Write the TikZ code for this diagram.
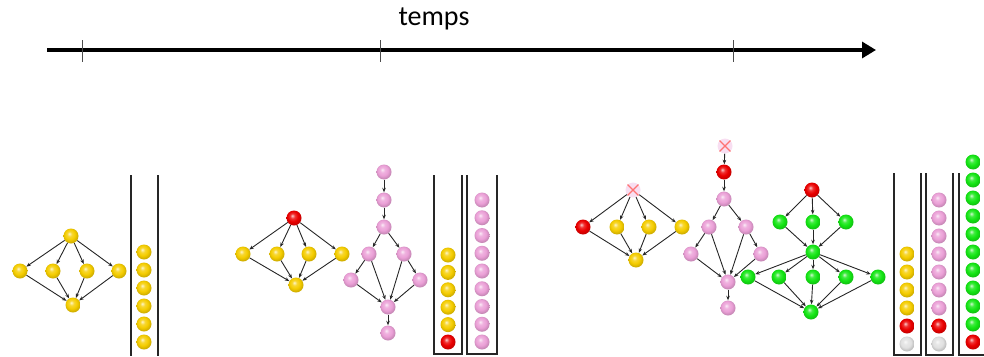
\documentclass[tikz,border=0pt]{standalone}
\usepackage{fontspec}
\setmainfont{Carlito}
\usetikzlibrary{arrows.meta}
\definecolor{yel}{RGB}{245,205,0}
\definecolor{pnk}{RGB}{235,160,215}
\definecolor{grn}{RGB}{20,230,20}
\definecolor{rd}{RGB}{235,0,0}
\definecolor{wht}{RGB}{225,225,225}
\makeatletter
\pgfdeclareradialshading[tikz@ball]{myball}{\pgfqpoint{-6bp}{8bp}}{%
  color(0bp)=(tikz@ball!20!white); color(8bp)=(tikz@ball!80!white);
  color(17bp)=(tikz@ball); color(26bp)=(tikz@ball!85!black);
  color(50bp)=(tikz@ball!60!black)}
\makeatother
\tikzset{
  ball/.style={circle, minimum size=15pt, inner sep=0pt, ball color=#1, shading=myball},
  gone/.style={circle, minimum size=15pt, inner sep=0pt, fill=pnk!35, draw=none},
  edge/.style={-{Stealth[length=4.5pt,width=3.5pt]}, line width=0.9pt, draw=black!85},
  wall/.style={line width=1.3pt, draw=black!85},
  tick/.style={line width=0.6pt, draw=black!70},
}
\begin{document}
\begin{tikzpicture}[x=1pt,y=-1pt]
\useasboundingbox (0,0) rectangle (984,356);
% timeline
\node[font=\fontsize{28}{32}\selectfont] (temps) at (434,19) {temps};
\coordinate (t0) at (47,50);
\coordinate (t1) at (876,50);
\draw[line width=3.2pt, -{Triangle[length=14pt,width=16pt]}] (t0) -- (t1);
\foreach \x/\n in {82/a,380/b,733/c} {
  \coordinate (tk\n a) at (\x,40);
  \coordinate (tk\n b) at (\x,62);
  \draw[tick] (tk\n a) -- (tk\n b);
}
% ---------- stage 1 ----------
\node[ball=yel] (a0) at (71,236) {};
\node[ball=yel] (a1) at (20,271) {};
\node[ball=yel] (a2) at (53,271) {};
\node[ball=yel] (a3) at (87,271) {};
\node[ball=yel] (a4) at (119,271) {};
\node[ball=yel] (a5) at (73,305) {};
\foreach \i in {1,...,4} {\draw[edge] (a0) -- (a\i); \draw[edge] (a\i) -- (a5);}
% stack 1
\coordinate (w1a) at (131,175); \coordinate (w1b) at (131,356);
\coordinate (w1c) at (158,175); \coordinate (w1d) at (158,356);
\draw[wall] (w1a) -- (w1b); \draw[wall] (w1c) -- (w1d);
\foreach \k in {0,...,5} {\node[ball=yel] (s1\k) at (144,{342-18*\k}) {};}
% ---------- stage 2 ----------
\node[ball=rd] (b0) at (294,218) {};
\node[ball=yel] (b1) at (243,254) {};
\node[ball=yel] (b2) at (277,254) {};
\node[ball=yel] (b3) at (309,254) {};
\node[ball=yel] (b4) at (342,254) {};
\node[ball=yel] (b5) at (296,285) {};
\foreach \i in {1,...,4} {\draw[edge] (b0) -- (b\i); \draw[edge] (b\i) -- (b5);}
% pink graph
\node[ball=pnk] (p1) at (384,172) {};
\node[ball=pnk] (p2) at (384,200) {};
\node[ball=pnk] (p3) at (384,227) {};
\node[ball=pnk] (p4) at (369,254) {};
\node[ball=pnk] (p5) at (404,254) {};
\node[ball=pnk] (p6) at (351,280) {};
\node[ball=pnk] (p7) at (420,280) {};
\node[ball=pnk] (p8) at (388,307) {};
\node[ball=pnk] (p9) at (388,333) {};
\foreach \u/\v in {1/2,2/3,3/4,3/5,4/6,4/8,5/8,5/7,6/8,7/8,8/9} {\draw[edge] (p\u) -- (p\v);}
% stacks 2
\coordinate (w2a) at (434,175); \coordinate (w2b) at (434,354);
\coordinate (w2c) at (462,354); \coordinate (w2d) at (462,175);
\draw[wall] (w2a) -- (w2b) -- (w2c) -- (w2d);
\coordinate (w3a) at (467,175); \coordinate (w3b) at (467,354);
\coordinate (w3c) at (497,354); \coordinate (w3d) at (497,175);
\draw[wall] (w3a) -- (w3b) -- (w3c) -- (w3d);
\node[ball=rd] (s2r) at (448,342) {};
\foreach \k in {1,...,5} {\node[ball=yel] (s2\k) at (448,{342-17.4*\k}) {};}
\foreach \k in {0,...,8} {\node[ball=pnk] (s3\k) at (482,{342-17.75*\k}) {};}
% ---------- stage 3 ----------
\node[gone] (c0) at (633,190) {};
\draw[red!55, line width=1.1pt] (c0.north west) -- (c0.south east) (c0.north east) -- (c0.south west);
\node[ball=rd] (c1) at (583,227) {};
\node[ball=yel] (c2) at (617,227) {};
\node[ball=yel] (c3) at (649,227) {};
\node[ball=yel] (c4) at (682,227) {};
\node[ball=yel] (c5) at (636,260) {};
\foreach \i in {1,...,4} {\draw[edge] (c0) -- (c\i); \draw[edge] (c\i) -- (c5);}
% pink graph 2
\node[gone] (q0) at (725,146) {};
\draw[red!55, line width=1.1pt] (q0.north west) -- (q0.south east) (q0.north east) -- (q0.south west);
\node[ball=rd] (q1) at (724,172) {};
\node[ball=pnk] (q2) at (724,199) {};
\node[ball=pnk] (q3) at (709,227) {};
\node[ball=pnk] (q4) at (746,227) {};
\node[ball=pnk] (q5) at (691,254) {};
\node[ball=pnk] (q6) at (761,254) {};
\node[ball=pnk] (q7) at (728,282) {};
\node[ball=pnk] (q8) at (728,308) {};
\foreach \u/\v in {0/1,1/2,2/3,2/4,3/5,3/7,4/7,4/6,5/7,6/7,7/8} {\draw[edge] (q\u) -- (q\v);}
% green graph
\node[ball=rd] (g0) at (812,190) {};
\node[ball=grn] (g1) at (780,222) {};
\node[ball=grn] (g2) at (813,222) {};
\node[ball=grn] (g3) at (846,222) {};
\node[ball=grn] (g4) at (813,252) {};
\node[ball=grn] (h1) at (748,277) {};
\node[ball=grn] (h2) at (779,277) {};
\node[ball=grn] (h3) at (813,277) {};
\node[ball=grn] (h4) at (846,277) {};
\node[ball=grn] (h5) at (878,277) {};
\node[ball=grn] (g5) at (811,312) {};
\foreach \i in {1,2,3} {\draw[edge] (g0) -- (g\i); \draw[edge] (g\i) -- (g4);}
\foreach \i in {1,...,5} {\draw[edge] (g4) -- (h\i); \draw[edge] (h\i) -- (g5);}
% stacks 3
\coordinate (w4a) at (894,173); \coordinate (w4b) at (894,355);
\coordinate (w4c) at (921,355); \coordinate (w4d) at (921,173);
\draw[wall] (w4a) -- (w4b) -- (w4c) -- (w4d);
\coordinate (w5a) at (926,173); \coordinate (w5b) at (926,355);
\coordinate (w5c) at (953,355); \coordinate (w5d) at (953,173);
\draw[wall] (w5a) -- (w5b) -- (w5c) -- (w5d);
\coordinate (w6a) at (959,173); \coordinate (w6b) at (959,355);
\coordinate (w6c) at (990,355);
\draw[wall] (w6a) -- (w6b) -- (w6c);
\node[ball=wht] (s4w) at (907,344) {};
\node[ball=rd] (s4r) at (907,326) {};
\foreach \k in {1,...,4} {\node[ball=yel] (s4\k) at (907,{326-18*\k}) {};}
\node[ball=wht] (s5w) at (939,344) {};
\node[ball=rd] (s5r) at (939,326) {};
\foreach \k in {1,...,7} {\node[ball=pnk] (s5\k) at (939,{326-18*\k}) {};}
\node[ball=rd] (s6r) at (973,342) {};
\foreach \k in {1,...,10} {\node[ball=grn] (s6\k) at (973,{342-18*\k}) {};}
\end{tikzpicture}
\end{document}
